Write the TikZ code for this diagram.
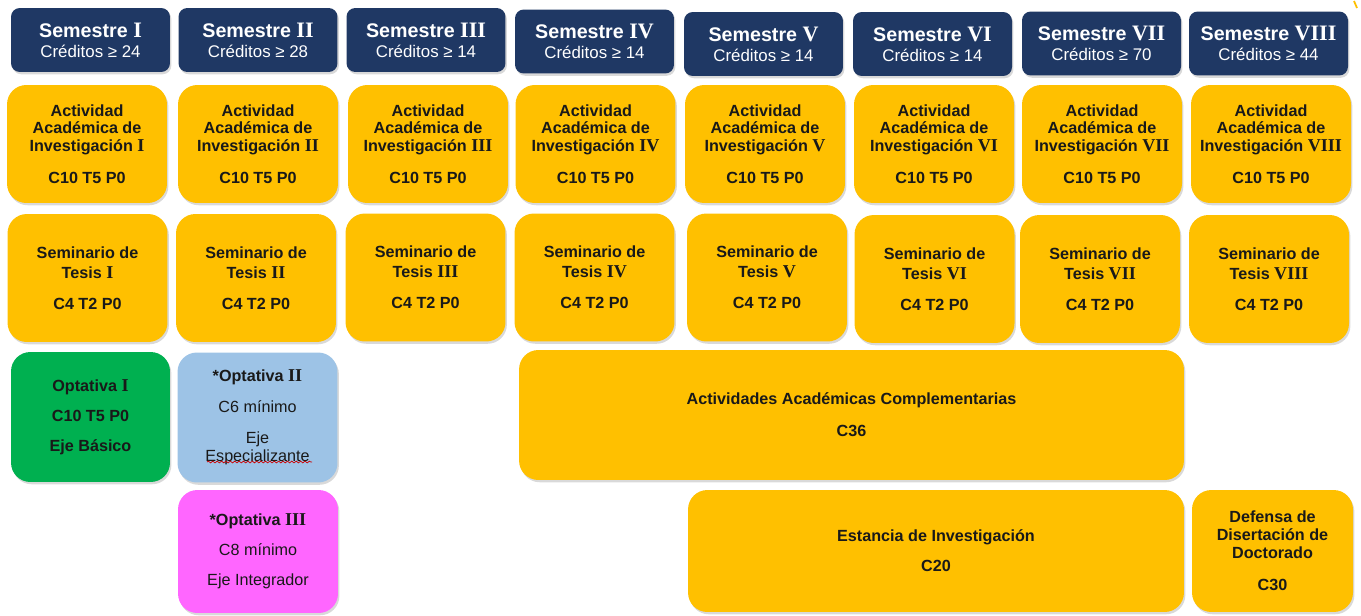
\documentclass[tikz,border=0pt]{standalone}
\usepackage{fontspec}
\setmainfont{Liberation Sans}
\newfontfamily\romfont[Scale=1.12]{Liberation Serif}
\usetikzlibrary{shadows,decorations.pathmorphing}
\definecolor{semblue}{HTML}{1F3864}
\definecolor{amarillo}{HTML}{FFC000}
\definecolor{verde}{HTML}{00B050}
\definecolor{celeste}{HTML}{9DC3E6}
\definecolor{rosa}{HTML}{FF66FF}
\newcommand{\rom}[1]{{\romfont\bfseries #1}}
\newcommand{\semtit}[1]{{\fontsize{11.2}{12}\selectfont\bfseries Semestre \rom{#1}}}
\tikzset{
  box/.style={rounded corners=11pt, align=center, inner sep=0pt,
    drop shadow={shadow xshift=0.8pt,shadow yshift=-1.3pt,opacity=0.3},
    font=\fontsize{9.2}{10.2}\selectfont\bfseries, text=black!90},
  semhead/.style={box, fill=semblue, text=white, rounded corners=5pt,
    minimum width=3.18cm, minimum height=1.28cm, font=\fontsize{9.6}{11.5}\selectfont},
  actbox/.style={box, fill=amarillo, minimum width=3.2cm, minimum height=2.36cm},
  tesisbox/.style={box, fill=amarillo, minimum width=3.2cm, minimum height=2.56cm},
  optbox/.style={box, minimum width=3.2cm, minimum height=2.6cm},
}
\begin{document}
\begin{tikzpicture}[x=0.02cm,y=-0.02cm]
  \useasboundingbox (0,0) rectangle (1361,615);
  % semestres
  \node[semhead] (sem1) at (90.5,40) {\semtit{I}\\Créditos ≥ 24};
  \node[semhead] (sem2) at (258,40) {\semtit{II}\\Créditos ≥ 28};
  \node[semhead] (sem3) at (426,40) {\semtit{III}\\Créditos ≥ 14};
  \node[semhead] (sem4) at (594.5,41.5) {\semtit{IV}\\Créditos ≥ 14};
  \node[semhead] (sem5) at (763.5,44) {\semtit{V}\\Créditos ≥ 14};
  \node[semhead] (sem6) at (932.5,44) {\semtit{VI}\\Créditos ≥ 14};
  \node[semhead] (sem7) at (1101.5,43.5) {\semtit{VII}\\Créditos ≥ 70};
  \node[semhead] (sem8) at (1268.5,43.5) {\semtit{VIII}\\Créditos ≥ 44};
  % actividad academica de investigacion
  \node[actbox] (inv1) at (87,144) {Actividad\\Académica de\\Investigación \rom{I}\\[7.8pt]C10 T5 P0};
  \node[actbox] (inv2) at (258,144) {Actividad\\Académica de\\Investigación \rom{II}\\[7.8pt]C10 T5 P0};
  \node[actbox] (inv3) at (428,144) {Actividad\\Académica de\\Investigación \rom{III}\\[7.8pt]C10 T5 P0};
  \node[actbox] (inv4) at (595.5,144) {Actividad\\Académica de\\Investigación \rom{IV}\\[7.8pt]C10 T5 P0};
  \node[actbox] (inv5) at (765,144) {Actividad\\Académica de\\Investigación \rom{V}\\[7.8pt]C10 T5 P0};
  \node[actbox] (inv6) at (934,144) {Actividad\\Académica de\\Investigación \rom{VI}\\[7.8pt]C10 T5 P0};
  \node[actbox] (inv7) at (1102,144) {Actividad\\Académica de\\Investigación \rom{VII}\\[7.8pt]C10 T5 P0};
  \node[actbox] (inv8) at (1271,144) {Actividad\\Académica de\\Investigación \rom{VIII}\\[7.8pt]C10 T5 P0};
  % seminario de tesis
  \node[tesisbox] (tes1) at (87.5,278) {Seminario de\\[1pt]Tesis \rom{I}\\[7.4pt]C4 T2 P0};
  \node[tesisbox] (tes2) at (256,278) {Seminario de\\[1pt]Tesis \rom{II}\\[7.4pt]C4 T2 P0};
  \node[tesisbox] (tes3) at (425.5,277.5) {Seminario de\\[1pt]Tesis \rom{III}\\[7.4pt]C4 T2 P0};
  \node[tesisbox] (tes4) at (594.5,277.5) {Seminario de\\[1pt]Tesis \rom{IV}\\[7.4pt]C4 T2 P0};
  \node[tesisbox] (tes5) at (767,277.5) {Seminario de\\[1pt]Tesis \rom{V}\\[7.4pt]C4 T2 P0};
  \node[tesisbox] (tes6) at (934.5,279) {Seminario de\\[1pt]Tesis \rom{VI}\\[7.4pt]C4 T2 P0};
  \node[tesisbox] (tes7) at (1100,279) {Seminario de\\[1pt]Tesis \rom{VII}\\[7.4pt]C4 T2 P0};
  \node[tesisbox] (tes8) at (1269,279) {Seminario de\\[1pt]Tesis \rom{VIII}\\[7.4pt]C4 T2 P0};
  % optativas
  \node[optbox, fill=verde, minimum width=3.18cm] (opt1) at (90.5,417)
    {Optativa \rom{I}\\[7pt]C10 T5 P0\\[7pt]Eje Básico};
  \node[optbox, fill=celeste] (opt2) at (257.5,417.5)
    {*Optativa \rom{II}\\[7.5pt]\mdseries C6 mínimo\\[7.5pt]\mdseries Eje\\\mdseries Especializante};
  \draw[red!80!black, decorate, decoration={snake,amplitude=0.5pt,segment length=2.5pt}]
    (207,462) -- (312,462);
  \node[optbox, fill=rosa, minimum height=2.46cm] (opt3) at (258,551.5)
    {*Optativa \rom{III}\\[6.8pt]\mdseries C8 mínimo\\[6.8pt]\mdseries Eje Integrador};
  % actividades largas
  \node[optbox, fill=amarillo, minimum width=13.3cm] (compl) at (851.5,415)
    {Actividades Académicas Complementarias\\[8pt]C36};
  \node[optbox, fill=amarillo, minimum width=9.92cm, minimum height=2.44cm] (estancia) at (936,551)
    {Estancia de Investigación\\[7pt]C20};
  \node[optbox, fill=amarillo, minimum width=3.22cm, minimum height=2.44cm] (defensa) at (1272.5,551)
    {Defensa de\\Disertación de\\Doctorado\\[8pt]C30};
  \draw[amarillo, line width=1pt] (1354,1) -- (1357,8);
\end{tikzpicture}
\end{document}
